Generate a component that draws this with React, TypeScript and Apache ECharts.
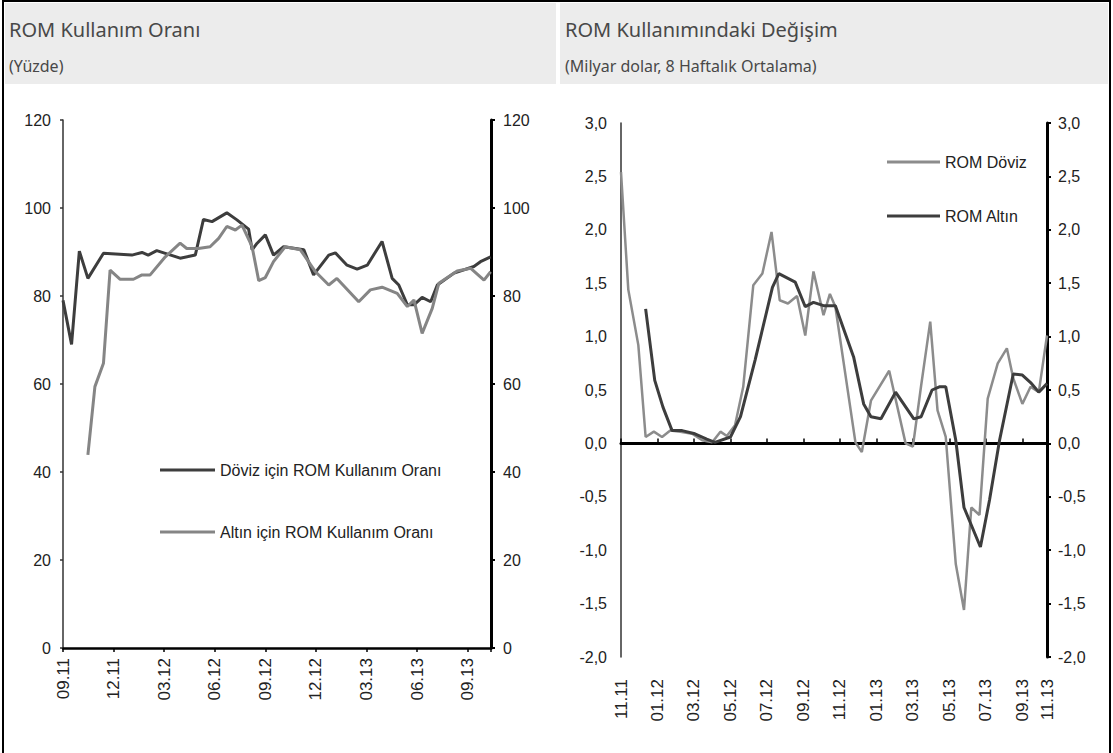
import React, { useEffect, useRef } from "react";
import * as echarts from "echarts";

// ---------- Left panel: ROM Kullanım Oranı (weeks since 09.11) ----------
const leftTickLabels = ["09.11", "12.11", "03.12", "06.12", "09.12", "12.12", "03.13", "06.13", "09.13"];
const leftWeekMax = 110;

const dovizRateWeeks = [0, 2.2, 4.2, 6.4, 10.4, 17.7, 20.3, 21.9, 24.1, 26.3, 30.1, 34, 36.1, 38.3, 42.1, 44.7, 47.7, 48.6, 49.9, 52, 54.1, 56.7, 61.9, 64.4, 68.3, 70, 73, 75.6, 78.2, 82, 84.6, 86.3, 88.5, 90.2, 92.3, 94.5, 96.2, 100.5, 105.6, 107.3, 109.9];
const dovizRateValues = [79, 69, 90.2, 84, 89.7, 89.3, 89.9, 89.3, 90.3, 89.7, 88.6, 89.3, 97.4, 96.9, 98.9, 97.3, 95.2, 90.5, 92, 93.9, 89.3, 91.2, 90.5, 84.8, 89.3, 89.8, 87, 86.1, 87, 92.4, 84, 82.5, 78, 78, 79.7, 78.7, 82.5, 85.2, 86.7, 87.8, 88.9];

const altinRateWeeks = [6.4, 8.2, 10.4, 12.1, 14.7, 18.1, 20.3, 22.4, 26.3, 30.1, 31.8, 34.8, 37.8, 40, 42.1, 44.3, 46, 48.6, 50.3, 52, 54.1, 57.1, 61, 64.9, 68.3, 70.4, 76, 79, 82, 85.9, 88.5, 90.2, 92.3, 94.9, 96.6, 101.3, 104.8, 108.2, 109.9];
const altinRateValues = [43.9, 59.4, 64.7, 85.9, 83.8, 83.8, 84.8, 84.8, 88.9, 92, 90.8, 90.8, 91.2, 93.1, 95.8, 95, 96.1, 91.2, 83.5, 84.2, 87.8, 91.2, 90.5, 85.5, 82.5, 84, 78.7, 81.4, 82, 80.6, 77.6, 79.1, 71.5, 77.2, 82.9, 85.7, 86.3, 83.6, 85.5];

// ---------- Right panel: ROM Kullanımındaki Değişim (months since 11.11) ----------
const rightTickLabels = ["11.11", "01.12", "03.12", "05.12", "07.12", "09.12", "11.12", "01.13", "03.13", "05.13", "07.13", "09.13"];
const rightEndLabel = "11.13";
const rightMonthMax = 23.35;

const dovizChangeMonths = [0, 0.4, 0.95, 1.35, 1.8, 2.25, 2.7, 3.25, 3.9, 4.45, 5.0, 5.45, 5.8, 6.25, 6.7, 7.25, 7.75, 8.25, 8.7, 9.15, 9.65, 10.1, 10.55, 11.1, 11.45, 11.75, 12.85, 13.2, 13.7, 14.7, 15.6, 16.0, 16.45, 16.95, 17.35, 17.8, 18.35, 18.8, 19.2, 19.65, 20.1, 20.65, 21.15, 21.5, 22.0, 22.45, 22.9, 23.35];
const dovizChangeValues = [2.54, 1.44, 0.92, 0.06, 0.11, 0.06, 0.12, 0.11, 0.09, 0.03, 0.01, 0.11, 0.07, 0.17, 0.53, 1.48, 1.59, 1.98, 1.34, 1.31, 1.38, 1.01, 1.61, 1.2, 1.4, 1.28, 0.01, -0.08, 0.4, 0.68, 0.0, -0.03, 0.54, 1.14, 0.31, 0.06, -1.13, -1.56, -0.6, -0.67, 0.42, 0.75, 0.89, 0.61, 0.37, 0.53, 0.48, 1.01];

const altinChangeMonths = [1.35, 1.85, 2.3, 2.8, 3.35, 4.05, 4.7, 5.15, 6.0, 6.55, 7.35, 8.3, 8.65, 9.55, 10.1, 10.55, 11.1, 11.75, 12.75, 13.3, 13.7, 14.25, 15.05, 16.05, 16.45, 17.05, 17.45, 17.8, 18.35, 18.8, 19.7, 20.2, 20.75, 21.5, 22.0, 22.45, 22.9, 23.35];
const altinChangeValues = [1.26, 0.59, 0.34, 0.12, 0.12, 0.09, 0.04, 0.01, 0.06, 0.25, 0.78, 1.46, 1.59, 1.51, 1.28, 1.32, 1.29, 1.29, 0.81, 0.37, 0.25, 0.23, 0.48, 0.23, 0.25, 0.5, 0.53, 0.53, 0.03, -0.6, -0.97, -0.53, 0.03, 0.65, 0.64, 0.57, 0.48, 0.56];

const NARROW = "'Liberation Sans Narrow', 'Arial Narrow', 'Liberation Sans', sans-serif";
const REG = "'Liberation Sans', Arial, sans-serif";
const TITLE = "'Noto Sans', 'DejaVu Sans', sans-serif";

const pairs = (xs: number[], ys: number[]) => xs.map((x, i) => [x, ys[i]]);
const near = (a: number, b: number) => Math.abs(a - b) < 1e-6;

export default function App() {
  const ref = useRef<HTMLDivElement>(null);

  useEffect(() => {
    if (!ref.current) return;
    const chart = echarts.init(ref.current, null, { renderer: "svg" });

    const yLabel = { fontSize: 16, fontFamily: NARROW, color: "#222" };
    const xLabel = { fontSize: 17, fontFamily: REG, color: "#222", rotate: 90 };

    const leftXFormatter = (v: number) => {
      const i = Math.round(v / 13);
      return near(v, i * 13) ? leftTickLabels[i] ?? "" : "";
    };
    const rightXFormatter = (v: number) => {
      if (near(v, rightMonthMax)) return rightEndLabel;
      const i = Math.round(v / 2);
      return near(v, i * 2) ? rightTickLabels[i] ?? "" : "";
    };
    const commaFmt = (v: number) => v.toFixed(1).replace(".", ",");

    const titleStyle = { fontFamily: TITLE, fontSize: 20, fontWeight: "normal", color: "#484848" };
    const subStyle = { fontFamily: TITLE, fontSize: 16, color: "#484848" };

    const option: any = {
      animation: false,
      backgroundColor: "#fff",
      textStyle: { fontFamily: REG },
      graphic: [
        { type: "rect", z: -10, shape: { x: 5, y: 3, width: 551, height: 81 }, style: { fill: "#ececec" } },
        { type: "rect", z: -10, shape: { x: 560, y: 3, width: 548, height: 81 }, style: { fill: "#ececec" } },
        { type: "rect", z: 100, shape: { x: 3, y: 1, width: 1107, height: 770 }, style: { fill: "none", stroke: "#000", lineWidth: 2 } },
      ],
      title: [
        {
          text: "ROM Kullanım Oranı",
          subtext: "(Yüzde)",
          left: 9,
          top: 19,
          padding: 0,
          itemGap: 19,
          textStyle: titleStyle,
          subtextStyle: subStyle,
        },
        {
          text: "ROM Kullanımındaki Değişim",
          subtext: "(Milyar dolar, 8 Haftalık Ortalama)",
          left: 565,
          top: 19,
          padding: 0,
          itemGap: 19,
          textStyle: titleStyle,
          subtextStyle: subStyle,
        },
      ],
      legend: [
        {
          data: ["Döviz için ROM Kullanım Oranı", "Altın için ROM Kullanım Oranı"],
          orient: "vertical",
          left: 160,
          top: 460,
          padding: 0,
          icon: "rect",
          itemWidth: 55,
          itemHeight: 3,
          itemGap: 42,
          selectedMode: false,
          textStyle: { fontSize: 16, fontFamily: NARROW, color: "#222", lineHeight: 20 },
        },
        {
          data: ["ROM Döviz", "ROM Altın"],
          orient: "vertical",
          left: 887,
          top: 152,
          padding: 0,
          icon: "rect",
          itemWidth: 53,
          itemHeight: 3,
          itemGap: 34,
          selectedMode: false,
          textStyle: { fontSize: 16, fontFamily: NARROW, color: "#222", lineHeight: 20 },
        },
      ],
      grid: [
        { left: 63, top: 120, width: 428, height: 528 },
        { left: 621, top: 123, width: 426, height: 534 },
      ],
      xAxis: [
        {
          gridIndex: 0,
          type: "value",
          min: 0,
          max: leftWeekMax,
          interval: 13,
          axisLine: { onZero: false, lineStyle: { color: "#000", width: 2.5 } },
          axisTick: { length: 4, lineStyle: { color: "#000", width: 1.5 } },
          splitLine: { show: false },
          axisLabel: { ...xLabel, margin: 10, formatter: leftXFormatter },
        },
        {
          gridIndex: 1,
          type: "value",
          min: 0,
          max: rightMonthMax,
          interval: 2,
          position: "bottom",
          axisLine: { show: false, onZero: false },
          axisTick: { show: false },
          splitLine: { show: false },
          axisLabel: { ...xLabel, margin: 22, formatter: rightXFormatter },
        },
        {
          gridIndex: 1,
          type: "value",
          min: 0,
          max: rightMonthMax,
          interval: 2,
          axisLine: { onZero: true, onZeroAxisIndex: 2, lineStyle: { color: "#000", width: 3 } },
          axisTick: { length: 5, lineStyle: { color: "#000", width: 1.5 } },
          splitLine: { show: false },
          axisLabel: { show: false },
        },
      ],
      yAxis: [
        {
          gridIndex: 0,
          type: "value",
          position: "left",
          min: 0,
          max: 120,
          interval: 20,
          axisLine: { show: true, onZero: false, lineStyle: { color: "#333", width: 1.5 } },
          axisTick: { show: true, length: 3, lineStyle: { color: "#333", width: 1.5 } },
          splitLine: { show: false },
          axisLabel: { ...yLabel, margin: 12 },
        },
        {
          gridIndex: 0,
          type: "value",
          position: "right",
          min: 0,
          max: 120,
          interval: 20,
          axisLine: { show: true, onZero: false, lineStyle: { color: "#000", width: 3 } },
          axisTick: { show: true, length: 4, lineStyle: { color: "#000", width: 2 } },
          splitLine: { show: false },
          axisLabel: { ...yLabel, margin: 12 },
        },
        {
          gridIndex: 1,
          type: "value",
          position: "left",
          min: -2,
          max: 3,
          interval: 0.5,
          axisLine: { show: true, onZero: false, lineStyle: { color: "#333", width: 1.5 } },
          axisTick: { show: false },
          splitLine: { show: false },
          axisLabel: { ...yLabel, margin: 14, formatter: commaFmt },
        },
        {
          gridIndex: 1,
          type: "value",
          position: "right",
          min: -2,
          max: 3,
          interval: 0.5,
          axisLine: { show: true, onZero: false, lineStyle: { color: "#000", width: 3 } },
          axisTick: { show: true, length: 4, lineStyle: { color: "#000", width: 2 } },
          splitLine: { show: false },
          axisLabel: { ...yLabel, margin: 11, formatter: commaFmt },
        },
      ],
      series: [
        {
          name: "Döviz için ROM Kullanım Oranı",
          type: "line",
          xAxisIndex: 0,
          yAxisIndex: 0,
          data: pairs(dovizRateWeeks, dovizRateValues),
          showSymbol: false,
          lineStyle: { color: "#3d3d3d", width: 3 },
          itemStyle: { color: "#3d3d3d" },
        },
        {
          name: "Altın için ROM Kullanım Oranı",
          type: "line",
          xAxisIndex: 0,
          yAxisIndex: 0,
          data: pairs(altinRateWeeks, altinRateValues),
          showSymbol: false,
          lineStyle: { color: "#858585", width: 3 },
          itemStyle: { color: "#858585" },
        },
        {
          name: "ROM Döviz",
          type: "line",
          xAxisIndex: 1,
          yAxisIndex: 2,
          data: pairs(dovizChangeMonths, dovizChangeValues),
          showSymbol: false,
          lineStyle: { color: "#8c8c8c", width: 2.5 },
          itemStyle: { color: "#8c8c8c" },
        },
        {
          name: "ROM Altın",
          type: "line",
          xAxisIndex: 1,
          yAxisIndex: 2,
          data: pairs(altinChangeMonths, altinChangeValues),
          showSymbol: false,
          lineStyle: { color: "#3d3d3d", width: 3 },
          itemStyle: { color: "#3d3d3d" },
        },
      ],
    };

    chart.setOption(option);
    return () => chart.dispose();
  }, []);

  return (
    <div
      ref={ref}
      style={{ position: "fixed", left: 0, top: 0, width: 1113, height: 753, background: "#fff" }}
    />
  );
}
